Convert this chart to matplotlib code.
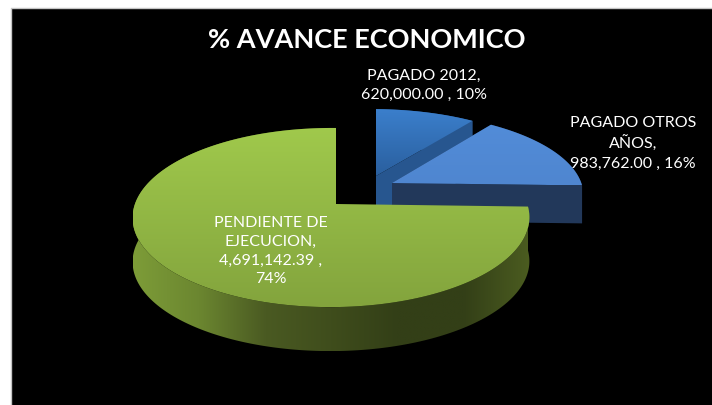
import numpy as np
import matplotlib
matplotlib.use('Agg')
import matplotlib.pyplot as plt
from matplotlib.colors import LinearSegmentedColormap
from matplotlib.patches import Polygon

plt.rcParams['font.family'] = ['Lato', 'DejaVu Sans']

titulo = '% AVANCE ECONOMICO'
categorias = ['PAGADO 2012', 'PAGADO OTROS AÑOS', 'PENDIENTE DE EJECUCION']
valores = [620000.00, 983762.00, 4691142.39]
porcentajes = [10, 16, 74]

# apex of each slice on screen (exploded), radius scales, depth
apex = [(376, 177), (392, 184), (336, 205)]
escala_x = [0.95, 0.975, 0.985]
escala_y = [0.88, 0.93, 1.0]
alto = [38, 38, 44]

fig = plt.figure(figsize=(7.12, 4.06), dpi=100, facecolor='white')
ax = fig.add_axes([0, 0, 1, 1])
ax.axis('off')


def proyecta(ang, i):
    # disc seen in perspective, back of the pie is smaller
    u, v = np.cos(ang), np.sin(ang)
    w = 1 + 0.151 * v + 0.025 * u
    x = apex[i][0] + 199 * escala_x[i] * u / w
    y = apex[i][1] - 87.5 * escala_y[i] * v / w
    return np.column_stack([x, y])


def degradado(pts, colores, vertical=True, z=1):
    pol = Polygon(pts, closed=True, fc='none', ec='none', zorder=z)
    ax.add_patch(pol)
    cm = LinearSegmentedColormap.from_list('c', colores)
    g = np.linspace(0, 1, 256)
    g = g.reshape(-1, 1) if vertical else g.reshape(1, -1)
    x0, y0 = pts.min(axis=0)
    x1, y1 = pts.max(axis=0)
    im = ax.imshow(g, cmap=cm, extent=[x0, x1, y1, y0], aspect='auto', zorder=z, interpolation='bilinear')
    im.set_clip_path(pol)


# slice angles, clockwise from the top
fr = np.array(valores) / np.sum(valores)
fin = np.pi / 2 - 2 * np.pi * np.cumsum(fr)
ini = np.r_[np.pi / 2, fin[:-1]]

tapas = [['#3b7fcc', '#2a5f9e'], ['#528cd8', '#4f86d0'], ['#a0c94c', '#83a43d']]
cortes = ['#27568f', '#22385a', '#3d4c1b']
z = 1
for i in range(3):
    ang = np.linspace(ini[i], fin[i], 240)
    arco = proyecta(ang, i)
    ap = np.array([apex[i]], dtype=float)
    d = np.array([0, alto[i]])

    # cut face on the right hand side of the slice
    corte = np.vstack([ap, arco[-1:], arco[-1:] + d, ap + d])
    ax.add_patch(Polygon(corte, closed=True, fc=cortes[i], ec='none', zorder=z))
    if i < 2:
        ini_c = np.vstack([ap, arco[:1], arco[:1] + d, ap + d])
        ax.add_patch(Polygon(ini_c, closed=True, fc=cortes[i], ec='none', zorder=z))
    pared = np.vstack([arco, (arco + d)[::-1]])
    if i == 2:
        # outer wall of the big slice
        degradado(pared, ['#7d9c38', '#6b8630', '#4a5a22', '#3f4d1c', '#333f17', '#333f17', '#4b5c20'],
                  vertical=False, z=z + 1)
    else:
        ax.add_patch(Polygon(pared, closed=True, fc=cortes[i], ec='none', zorder=z))
    tapa = np.vstack([ap, arco])
    degradado(tapa, tapas[i], z=z + 2)
    z += 3

# white labels
cabeceras = ['PAGADO 2012,', 'PAGADO OTROS\nAÑOS,', 'PENDIENTE DE\nEJECUCION,']
for i, (x, y) in enumerate([(424, 85), (633, 143), (271, 251)]):
    if i == 2:
        txt = f'{cabeceras[i]}\n{valores[i]:,.2f} ,\n{porcentajes[i]}%'
    else:
        txt = f'{cabeceras[i]}\n{valores[i]:,.2f} , {porcentajes[i]}%'
    ax.text(x, y, txt, color='white', fontsize=11.5, ha='center', va='center', linespacing=1.45, zorder=30)

ax.text(367, 40.5, titulo, color='white', fontsize=19.5, fontweight='bold', ha='center', va='center', zorder=30)

# black chart area, thin grey border shows only top and left
ax.fill_between([10.5, 730], 8.5, 430, color='black', ec='#c4c4c4', lw=1, zorder=0)
ax.set_xlim(0, 712)
ax.set_ylim(406, 0)

fig.savefig('out.png', dpi=100, facecolor='white')
